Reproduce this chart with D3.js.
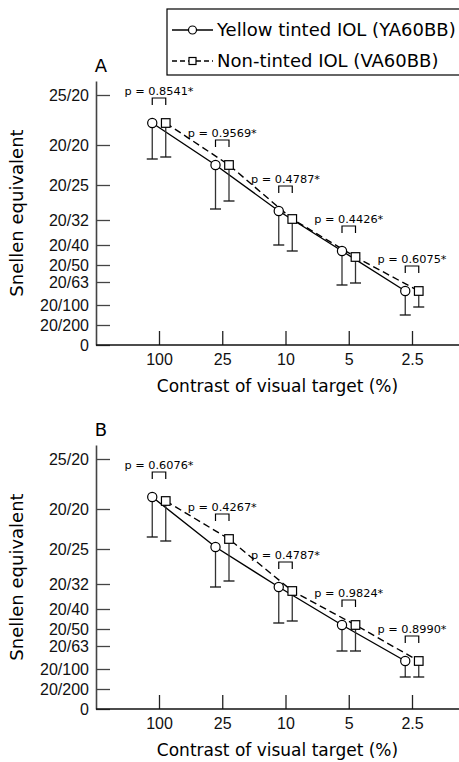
<!DOCTYPE html>
<html>
<head>
<meta charset="utf-8">
<script src="https://cdn.jsdelivr.net/npm/d3@7"></script>
<style>
  body { margin: 0; background: #fff; }
  svg { display: block; font-family: "DejaVu Sans", sans-serif; }
</style>
</head>
<body>
<div id="chart"></div>
<script>
// contrast levels of the visual target (%)
var contrasts = ["100", "25", "10", "5", "2.5"];

// Snellen ticks, placed on a decimal acuity scale
var tickValues = [1.25, 1.0, 0.8, 0.625, 0.5, 0.4, 0.315, 0.2, 0.1, 0];
var tickLabels = ["25/20", "20/20", "20/25", "20/32", "20/40", "20/50", "20/63", "20/100", "20/200", "0"];

var seriesNames = ["Yellow tinted IOL (YA60BB)", "Non-tinted IOL (VA60BB)"];

// panel A (decimal acuity, mean and SD)
var yellowA = [1.11, 0.90, 0.67, 0.47, 0.27];
var yellowSdA = [0.18, 0.22, 0.17, 0.17, 0.12];
var clearA = [1.11, 0.90, 0.63, 0.44, 0.27];
var clearSdA = [0.17, 0.18, 0.16, 0.13, 0.08];
var pValuesA = ["0.8541", "0.9569", "0.4787", "0.4426", "0.6075"];

// panel B
var yellowB = [1.06, 0.81, 0.61, 0.42, 0.24];
var yellowSdB = [0.20, 0.20, 0.18, 0.13, 0.08];
var clearB = [1.04, 0.85, 0.59, 0.42, 0.24];
var clearSdB = [0.20, 0.21, 0.15, 0.13, 0.08];
var pValuesB = ["0.6076", "0.4267", "0.4787", "0.9824", "0.8990"];

var W = 459, H = 762;
var left = 96, width = 363, height = 264;
var off = 6.75; // horizontal nudge between the two series

var svg = d3.select("#chart").append("svg")
    .attr("width", W)
    .attr("height", H);

var x = d3.scalePoint()
    .domain(contrasts)
    .range([63, 316]);

var y = d3.scaleLinear()
    .domain([0, 1.32])
    .range([height, 0]);

function panel(top, letter, yellow, yellowSd, clear, clearSd, pvals) {
  var g = svg.append("g")
      .attr("transform", "translate(" + left + "," + top + ")");

  var yAxis = g.append("g")
      .call(d3.axisLeft(y)
        .tickValues(tickValues)
        .tickFormat(function(d, i) { return tickLabels[i]; })
        .tickSizeInner(-14)
        .tickSizeOuter(0)
        .tickPadding(7));
  yAxis.select(".domain").attr("stroke", "#444").attr("stroke-width", 1.6);
  yAxis.selectAll(".tick line").attr("stroke", "#444").attr("stroke-width", 1.3);
  yAxis.selectAll("text").attr("font-size", 16).attr("fill", "#111");

  var xAxis = g.append("g")
      .attr("transform", "translate(0," + height + ")")
      .call(d3.axisBottom(x).tickSizeInner(-14).tickSizeOuter(0).tickPadding(9));
  xAxis.select(".domain").remove();
  xAxis.selectAll(".tick line").attr("stroke", "#222").attr("stroke-width", 1.3);
  xAxis.selectAll("text").attr("font-size", 16).attr("fill", "#111");
  g.append("line")
      .attr("x1", 0).attr("x2", width)
      .attr("y1", height).attr("y2", height)
      .attr("stroke", "#111").attr("stroke-width", 1.6);

  g.append("text")
      .attr("x", 5).attr("y", -9)
      .attr("text-anchor", "middle")
      .attr("font-size", 18)
      .text(letter);

  g.append("text")
      .attr("transform", "translate(-73," + (height / 2) + ") rotate(-90)")
      .attr("text-anchor", "middle")
      .attr("font-size", 18)
      .text("Snellen equivalent");

  g.append("text")
      .attr("x", width / 2).attr("y", height + 47)
      .attr("text-anchor", "middle")
      .attr("font-size", 17)
      .text("Contrast of visual target (%)");

  var series = [
    {vals: yellow, sd: yellowSd, dx: -off, dash: null, shape: "circle"},
    {vals: clear, sd: clearSd, dx: off, dash: "7,4", shape: "square"}
  ];

  series.forEach(function(s) {
    var pts = contrasts.map(function(c, i) {
      return {c: c, v: s.vals[i], sd: s.sd[i]};
    });
    var px = function(d) { return x(d.c) + s.dx; };

    // error bars (downwards only)
    g.selectAll(null).data(pts).enter().append("line")
        .attr("x1", px).attr("x2", px)
        .attr("y1", function(d) { return y(d.v); })
        .attr("y2", function(d) { return y(d.v - d.sd); })
        .attr("stroke", "#333").attr("stroke-width", 1.3);
    g.selectAll(null).data(pts).enter().append("line")
        .attr("x1", function(d) { return px(d) - 5.5; })
        .attr("x2", function(d) { return px(d) + 5.5; })
        .attr("y1", function(d) { return y(d.v - d.sd); })
        .attr("y2", function(d) { return y(d.v - d.sd); })
        .attr("stroke", "#111").attr("stroke-width", 1.3);

    g.append("path")
        .datum(pts)
        .attr("fill", "none")
        .attr("stroke", "#000")
        .attr("stroke-width", 1.4)
        .attr("stroke-dasharray", s.dash)
        .attr("d", d3.line().x(px).y(function(d) { return y(d.v); }));
  });

  series.forEach(function(s) {
    contrasts.forEach(function(c, i) {
      var cx = x(c) + s.dx, cy = y(s.vals[i]);
      if (s.shape === "circle") {
        g.append("circle").attr("cx", cx).attr("cy", cy).attr("r", 4.6)
            .attr("fill", "#fff").attr("stroke", "#000").attr("stroke-width", 1.2);
      } else {
        g.append("rect").attr("x", cx - 4.3).attr("y", cy - 4.3)
            .attr("width", 8.6).attr("height", 8.6)
            .attr("fill", "#fff").attr("stroke", "#000").attr("stroke-width", 1.2);
      }
    });
  });

  // p-value brackets
  contrasts.forEach(function(c, i) {
    var top = y(Math.max(yellow[i], clear[i])) - 25;
    var x0 = x(c) - off, x1 = x(c) + off;
    g.append("path")
        .attr("d", "M" + x0 + "," + (top + 7) + "V" + top + "H" + x1 + "V" + (top + 7))
        .attr("fill", "none").attr("stroke", "#000").attr("stroke-width", 1.2);
    g.append("text")
        .attr("x", x(c)).attr("y", top - 3)
        .attr("text-anchor", "middle")
        .attr("font-size", 11.3)
        .text("p = " + pvals[i] + "*");
  });
}

panel(81, "A", yellowA, yellowSdA, clearA, clearSdA, pValuesA);
panel(445, "B", yellowB, yellowSdB, clearB, clearSdB, pValuesB);

// legend
var legend = svg.append("g").attr("transform", "translate(167,9)");
legend.append("rect")
    .attr("x", 0).attr("y", 0)
    .attr("width", 320).attr("height", 66)
    .attr("fill", "#fff").attr("stroke", "#000").attr("stroke-width", 1.2);
seriesNames.forEach(function(name, i) {
  var ly = 21 + i * 31;
  legend.append("line")
      .attr("x1", 5).attr("x2", 46).attr("y1", ly).attr("y2", ly)
      .attr("stroke", "#000").attr("stroke-width", 1.3)
      .attr("stroke-dasharray", i === 0 ? null : "5,3");
  if (i === 0) {
    legend.append("circle").attr("cx", 25.5).attr("cy", ly).attr("r", 4)
        .attr("fill", "#fff").attr("stroke", "#000").attr("stroke-width", 1.2);
  } else {
    legend.append("rect").attr("x", 22).attr("y", ly - 3.5).attr("width", 7).attr("height", 7)
        .attr("fill", "#fff").attr("stroke", "#000").attr("stroke-width", 1.2);
  }
  legend.append("text")
      .attr("x", 50).attr("y", ly + 6)
      .attr("font-size", 18)
      .text(name);
});
</script>
</body>
</html>
